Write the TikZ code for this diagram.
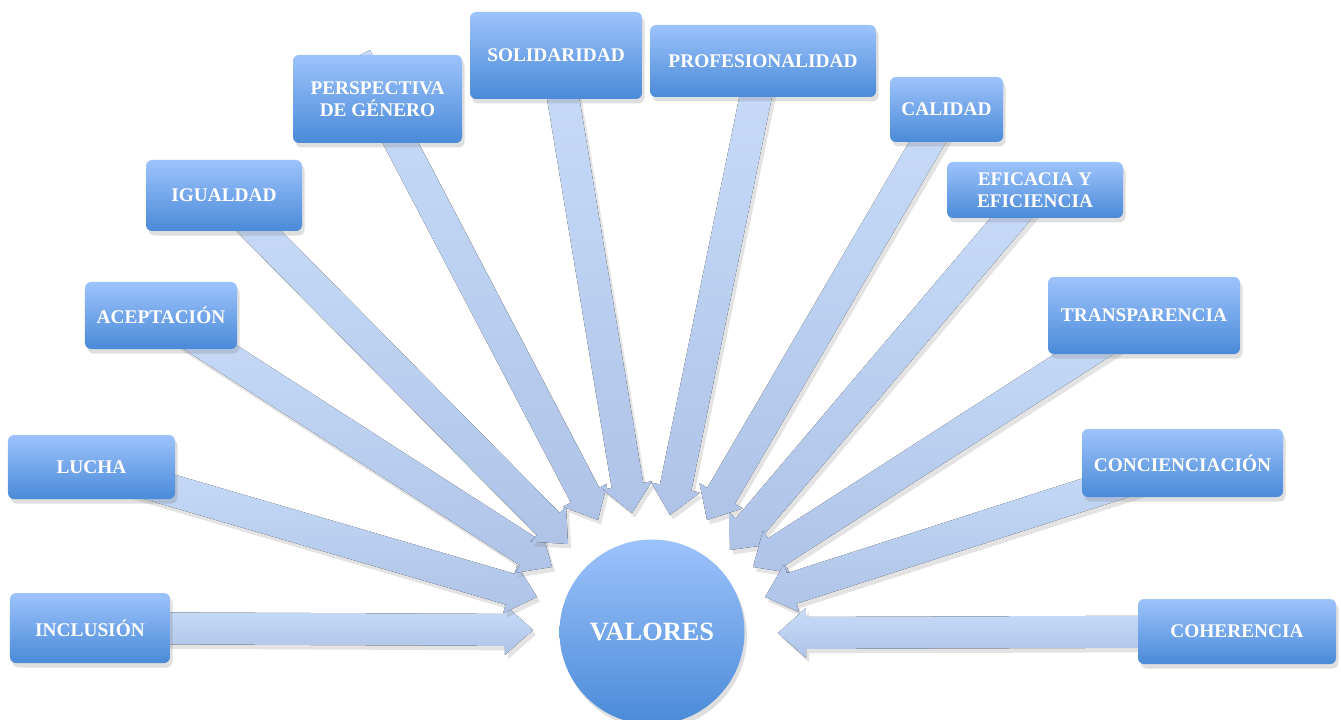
\documentclass[tikz,border=0pt]{standalone}
\usepackage{fontspec}
\setmainfont{Liberation Serif}
\usepackage{tikz}
\usetikzlibrary{calc,shadows,backgrounds}

\definecolor{boxtop}{HTML}{9DC3FC}
\definecolor{boxbottom}{HTML}{4A8AD8}
\definecolor{arrowtop}{HTML}{C8DCF9}
\definecolor{arrowbottom}{HTML}{AEC3E6}

\newcommand{\valarrow}[3][0mm]{%
  \coordinate (a) at ($(#2)!-#1!(#3)$);
  \coordinate (b) at ($(#3)!5.6mm!(#2)$);
  \fill[fat arrow] ($(a)!3.2mm!90:(#3)$) -- ($(b)!3.2mm!90:(#3)$) -- ($(b)!5mm!90:(#3)$)
    -- (#3) -- ($(b)!5mm!-90:(#3)$) -- ($(b)!3.2mm!-90:(#3)$) -- ($(a)!3.2mm!-90:(#3)$) -- cycle;
}

\begin{document}
\begin{tikzpicture}[x=0.2mm,y=-0.2mm]
  \tikzstyle{value}=[rounded corners=1.2mm, top color=boxtop, bottom color=boxbottom,
    text=white, font=\bfseries\fontsize{11}{12.5}\selectfont, align=center, inner sep=0pt,
    drop shadow={shadow xshift=0.5mm, shadow yshift=-0.9mm, opacity=0.25}]
  \tikzstyle{centre}=[circle, minimum size=37mm, top color=boxtop, bottom color=boxbottom,
    text=white, font=\bfseries\fontsize{15}{18}\selectfont, inner sep=0pt,
    drop shadow={shadow xshift=0.5mm, shadow yshift=-0.9mm, opacity=0.25}]
  \tikzstyle{fat arrow}=[top color=arrowtop, bottom color=arrowbottom,
    drop shadow={shadow xshift=0.6mm, shadow yshift=-0.9mm, opacity=0.22}]

  \useasboundingbox (0,0) rectangle (1341,720);

  \node[centre] (valores) at (652,632) {VALORES};

  \node[value, minimum width=32mm, minimum height=14mm] (inclusion) at (90,628) {INCLUSIÓN};
  \node[value, minimum width=33.4mm, minimum height=12.8mm] (lucha) at (91.5,467) {LUCHA};
  \node[value, minimum width=30.4mm, minimum height=13.4mm] (aceptacion) at (161,315.5) {ACEPTACIÓN};
  \node[value, minimum width=31.2mm, minimum height=14.2mm] (igualdad) at (224,195.5) {IGUALDAD};
  \node[value, minimum width=33.8mm, minimum height=17.6mm] (perspectiva) at (377.5,99) {PERSPECTIVA\\DE GÉNERO};
  \node[value, minimum width=34.4mm, minimum height=17.4mm] (solidaridad) at (556,55.5) {SOLIDARIDAD};
  \node[value, minimum width=45.2mm, minimum height=14.4mm] (profesionalidad) at (763,61) {PROFESIONALIDAD};
  \node[value, minimum width=22.6mm, minimum height=13mm] (calidad) at (946.5,109.5) {CALIDAD};
  \node[value, minimum width=35.2mm, minimum height=11.2mm] (eficacia) at (1035,190) {EFICACIA Y\\EFICIENCIA};
  \node[value, minimum width=38.4mm, minimum height=15.4mm] (transparencia) at (1144,315.5) {TRANSPARENCIA};
  \node[value, minimum width=40.2mm, minimum height=13.6mm] (concienciacion) at (1182.5,463) {CONCIENCIACIÓN};
  \node[value, minimum width=39.6mm, minimum height=13mm] (coherencia) at (1237,631.5) {COHERENCIA};

  \coordinate (t-inclusion) at (533,630);
  \coordinate (t-lucha) at (537,597);
  \coordinate (t-aceptacion) at (552,567);
  \coordinate (t-igualdad) at (568,544);
  \coordinate (t-perspectiva) at (598,520);
  \coordinate (t-solidaridad) at (632,513);
  \coordinate (t-profesionalidad) at (670,515);
  \coordinate (t-calidad) at (707,520);
  \coordinate (t-eficacia) at (730,550);
  \coordinate (t-transparencia) at (753,567);
  \coordinate (t-concienciacion) at (765,597);
  \coordinate (t-coherencia) at (778,633);

  \begin{pgfonlayer}{background}
    \foreach \v/\e in {inclusion/0mm, lucha/0mm, aceptacion/0mm, igualdad/0mm, perspectiva/9.4mm,
      solidaridad/0mm, profesionalidad/0mm, calidad/0mm, eficacia/0mm, transparencia/0mm,
      concienciacion/0mm, coherencia/0mm}
      \valarrow[\e]{\v}{t-\v};
  \end{pgfonlayer}
\end{tikzpicture}
\end{document}
